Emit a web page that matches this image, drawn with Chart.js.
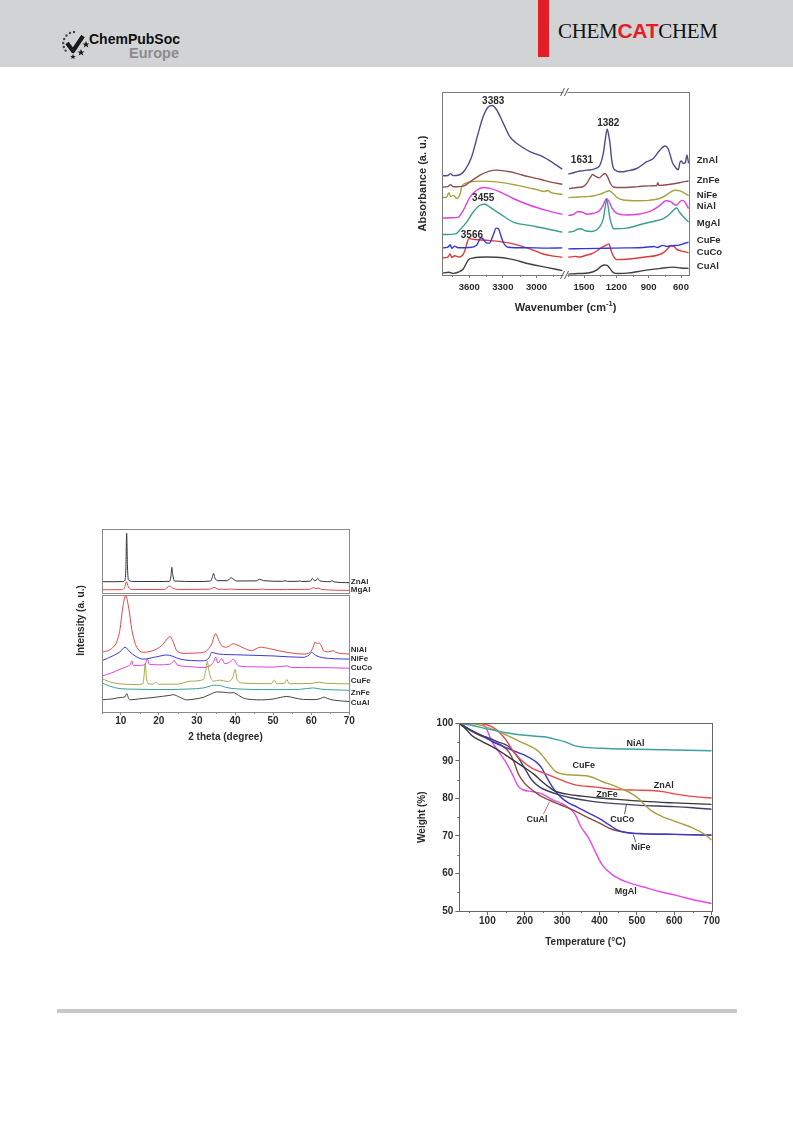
<!DOCTYPE html>
<html><head><meta charset="utf-8">
<script src="https://cdn.jsdelivr.net/npm/chart.js@4.4.0/dist/chart.umd.min.js"></script>
<style>
html,body{margin:0;padding:0;background:#fff;}
#page{position:relative;width:793px;height:1121px;overflow:hidden;background:#fff;font-family:'Liberation Sans',Arial,sans-serif;}
.hdr{position:absolute;left:0;top:0;width:793px;height:67px;background:#d2d3d5;}
.red{position:absolute;left:538px;top:0;width:11px;height:57px;background:#e41e26;}
.brand{position:absolute;left:558px;top:18px;font-size:21px;line-height:26px;white-space:nowrap;letter-spacing:-0.3px;}
.brand .s{font-family:'Liberation Serif','Times New Roman',serif;color:#111;}
.brand .c{font-family:'Liberation Sans',Arial,sans-serif;font-weight:bold;color:#e41e26;}
.cps{position:absolute;left:89px;top:31px;font-size:14px;line-height:16px;font-weight:bold;color:#111;}
.eu{position:absolute;left:129px;top:45px;font-size:14.5px;line-height:16px;font-weight:bold;color:#8c8c8c;}
.logo{position:absolute;left:61px;top:29px;}
.box{position:absolute;}
.foot{position:absolute;left:57px;top:1009px;width:680px;height:4px;background:#c8c8cc;}
</style></head>
<body>
<div id="page">
  <div class="hdr"></div>
  <div class="red"></div>
  <div class="brand"><span class="s">CHEM</span><span class="c">CAT</span><span class="s">CHEM</span></div>
  <svg class="logo" width="30" height="30" viewBox="0 0 30 30">
    <g fill="#444">
      <circle cx="9" cy="4" r="1.2"/><circle cx="5.5" cy="6.5" r="1.2"/><circle cx="3.2" cy="10" r="1.2"/>
      <circle cx="2.2" cy="14" r="1.2"/><circle cx="2.8" cy="18" r="1.2"/><circle cx="4.6" cy="21.6" r="1.2"/>
      <circle cx="13" cy="3" r="1.2"/>
    </g>
    <path d="M6 14 L12 22 L22 7" fill="none" stroke="#1a1a1a" stroke-width="4.2" stroke-linejoin="round"/>
    <polygon fill="#1a1a1a" points="25,12 26,14.5 28.5,14.5 26.5,16 27.3,18.5 25,17 22.7,18.5 23.5,16 21.5,14.5 24,14.5"/>
    <polygon fill="#1a1a1a" points="20,20 21,22.5 23.5,22.5 21.5,24 22.3,26.5 20,25 17.7,26.5 18.5,24 16.5,22.5 19,22.5"/>
    <polygon fill="#1a1a1a" points="12,25 12.8,27 14.8,27 13.2,28.2 13.8,30 12,28.9 10.2,30 10.8,28.2 9.2,27 11.2,27"/>
  </svg>
  <div class="cps">ChemPubSoc</div>
  <div class="eu">Europe</div>

  <div class="box" id="ftirBox"><canvas id="ftir"></canvas></div>
  <div class="box" id="xrdBox"><canvas id="xrd"></canvas></div>
  <div class="box" id="tgaBox"><canvas id="tga"></canvas></div>

  <div class="foot"></div>
</div>
<script>
// ================= FTIR data (wavenumber, absorbance a.u.) =================
const ftirSeries = ['ZnAl','ZnFe','NiFe','NiAl','MgAl','CuFe','CuCo','CuAl'];
const ftirTicksHi = [3600, 3300, 3000];
const ftirTicksLo = [1500, 1200, 900, 600];
const ftirMinorHi = [3750, 3450, 3150, 2850];
const ftirMinorLo = [1650, 1350, 1050, 750];

const ftirZnAlHi = [[3845,54.2],[3790,54.4],[3765,55.4],[3745,54.3],[3697,54.5],[3638,57.3],[3578,64.6],[3520,77.5],[3475,86.6],[3431,91.8],[3395,92.6],[3356,90.3],[3297,83.0],[3238,75.6],[3178,72.0],[3120,69.6],[3060,67.4],[3000,66.0],[2942,64.6],[2880,62.4],[2823,60.0],[2770,57.8]];
const ftirZnFeHi = [[3845,48.1],[3790,48.3],[3765,49.4],[3745,48.2],[3650,48.6],[3593,50.9],[3504,54.6],[3420,56.8],[3356,57.3],[3238,56.4],[3150,55.0],[3060,53.6],[2960,52.2],[2882,50.9],[2770,49.6]];
const ftirNiFeHi = [[3845,42.3],[3800,42.6],[3780,45.0],[3765,42.8],[3740,43.5],[3712,41.8],[3690,43.0],[3680,44.5],[3667,48.1],[3623,50.3],[3504,51.3],[3356,50.9],[3178,49.1],[3060,47.5],[3001,46.7],[2930,45.6],[2900,46.2],[2870,45.0],[2770,44.1]];
const ftirNiAlHi = [[3845,31.1],[3760,31.3],[3700,31.5],[3653,35.3],[3593,42.6],[3534,46.3],[3475,47.8],[3416,47.3],[3327,45.4],[3208,41.8],[3060,38.1],[2912,35.3],[2770,33.1]];
const ftirMgAlHi = [[3845,22.1],[3720,22.5],[3682,24.7],[3623,28.9],[3564,34.4],[3504,38.1],[3460,38.7],[3416,37.1],[3327,33.5],[3208,28.9],[3060,27.1],[2912,25.3],[2770,23.4]];
const ftirCuFeHi = [[3845,14.8],[3790,15.2],[3770,16.5],[3755,14.6],[3730,15.8],[3700,14.9],[3600,15.0],[3534,16.3],[3495,20.3],[3480,20.0],[3450,17.6],[3422,17.4],[3385,22.0],[3360,25.6],[3340,25.4],[3320,22.0],[3297,17.9],[3253,15.2],[3100,14.9],[2900,14.7],[2770,14.8]];
const ftirCuCoHi = [[3845,9.3],[3790,9.8],[3770,11.5],[3755,9.6],[3730,10.5],[3690,9.8],[3660,10.8],[3638,13.4],[3615,18.5],[3600,20.0],[3575,19.6],[3549,19.4],[3450,19.0],[3356,18.5],[3208,17.0],[3060,14.3],[2942,11.5],[2850,10.3],[2770,9.7]];
const ftirCuAlHi = [[3845,0.9],[3780,1.5],[3740,0.9],[3700,1.5],[3653,3.3],[3608,8.2],[3564,9.3],[3450,9.8],[3356,9.7],[3238,8.8],[3060,6.0],[2912,4.2],[2770,2.4]];

const ftirZnAlLo = [[1646,55.1],[1600,55.9],[1537,56.8],[1475,57.3],[1414,57.7],[1380,58.5],[1352,60.1],[1321,66.5],[1299,75.6],[1285,79.7],[1270,76.0],[1259,72.0],[1243,62.8],[1220,57.7],[1150,56.4],[1104,56.8],[1011,58.2],[918,61.9],[857,63.7],[795,68.3],[749,70.5],[720,69.0],[700,65.5],[680,61.5],[660,59.5],[640,58.0],[625,57.5],[610,61.5],[595,62.3],[580,61.0],[560,61.5],[545,65.5],[530,61.0]];
const ftirZnFeLo = [[1640,47.2],[1560,47.8],[1500,48.6],[1470,50.5],[1440,53.5],[1420,54.9],[1395,54.0],[1360,53.1],[1330,54.5],[1305,55.5],[1280,53.5],[1255,50.0],[1228,48.1],[1150,47.8],[1000,48.3],[900,48.7],[825,48.9],[815,50.5],[805,49.0],[700,49.6],[600,50.6],[530,51.4]];
const ftirNiFeLo = [[1646,42.3],[1550,42.6],[1480,42.8],[1414,43.2],[1350,44.2],[1300,45.4],[1265,46.0],[1230,44.5],[1190,42.2],[1136,41.0],[1000,40.6],[900,40.8],[800,41.8],[740,43.5],[690,45.6],[650,46.3],[610,46.0],[570,44.8],[530,43.4]];
const ftirNiAlLo = [[1646,32.6],[1600,33.0],[1560,34.6],[1520,34.4],[1470,33.2],[1420,33.6],[1360,35.0],[1320,38.5],[1295,41.6],[1270,40.5],[1240,36.5],[1200,33.8],[1104,32.8],[1000,33.2],[888,34.8],[800,37.8],[740,40.6],[700,40.2],[660,38.4],[640,38.1],[610,40.2],[580,40.8],[555,39.0],[530,36.3]];
const ftirMgAlLo = [[1646,23.4],[1600,23.8],[1560,25.0],[1530,25.3],[1490,24.2],[1429,23.8],[1360,26.0],[1321,30.8],[1300,38.5],[1290,41.8],[1278,38.0],[1259,30.8],[1240,26.8],[1228,25.3],[1104,25.6],[950,28.0],[840,29.5],[764,30.8],[700,33.5],[660,36.0],[640,36.6],[610,34.0],[580,32.0],[555,30.5],[530,28.9]];
const ftirCuFeLo = [[1646,14.3],[1500,14.4],[1300,14.6],[1100,14.8],[950,15.0],[850,15.6],[820,15.0],[770,16.2],[730,15.6],[680,16.0],[620,16.3],[570,17.2],[530,17.9]];
const ftirCuCoLo = [[1646,9.7],[1580,10.2],[1540,9.8],[1480,10.8],[1420,11.8],[1370,13.6],[1330,15.2],[1290,16.5],[1268,17.0],[1250,13.5],[1228,10.3],[1197,8.4],[1104,8.6],[950,9.7],[820,10.8],[760,12.4],[720,14.6],[690,16.1],[665,15.6],[640,14.0],[600,13.2],[560,12.6],[530,12.2]];
const ftirCuAlLo = [[1646,0.5],[1560,0.8],[1450,1.2],[1380,2.8],[1340,4.8],[1310,5.5],[1285,5.3],[1260,3.6],[1228,1.3],[1180,0.8],[1100,1.0],[950,2.4],[800,3.5],[672,4.3],[600,3.8],[530,3.6]];

const ftirLabelY = [62.5, 51.9, 43.7, 37.3, 28.3, 19.1, 12.2, 4.5];
const ftirPeakText = ['3383', '3455', '3566', '1382', '1631'];
const ftirPeakX = [3386, 3475, 3576, 1275, 1519];
const ftirPeakY = [95.1, 42.2, 21.9, 82.9, 62.8];
const ftirPeakAxis = ['x1', 'x1', 'x1', 'x2', 'x2'];

// ================= XRD data (2 theta, intensity a.u.) =================
const xrdSeries = ['ZnAl','MgAl','NiAl','NiFe','CuCo','CuFe','ZnFe','CuAl'];
const xrdTicks = [10, 20, 30, 40, 50, 60, 70];
const xrdMinor = [5, 15, 25, 35, 45, 55, 65];
const xrdZnAl = [[5,18.9],[8,18.9],[10.5,19.1],[11.1,21],[11.35,40],[11.55,93.4],[11.75,45],[12.0,22],[13,19.3],[20,19.2],[22.8,19.5],[23.2,28],[23.4,41],[23.65,30],[24.1,20],[30,19.2],[33.6,20],[34.1,27],[34.35,31.8],[34.7,25],[35.4,20.5],[38.0,20.5],[38.7,24],[39.0,25],[39.5,23],[40.5,20],[45.5,20.2],[46.5,22.6],[47.5,20.5],[52.5,19.5],[53.1,20.5],[53.8,19.4],[56.5,19.5],[57,20.2],[57.5,19.3],[59.8,19.8],[60.3,24.2],[60.8,20.5],[61.3,21],[61.7,24.2],[62.2,20.3],[65,18.9],[65.5,20.5],[66,18.7],[70,17.4]];
const xrdMgAl = [[5,6.5],[10.3,6.7],[11.0,10],[11.5,18.9],[12.0,11],[13,6.8],[21.5,7],[22.8,12.3],[23.8,8.5],[25,7],[33.5,7.5],[34.5,10.3],[35.5,7.5],[38,7.2],[39,7.5],[40,7],[46,7],[47,7.5],[48,6.8],[59.5,7.2],[60.5,9.7],[61.2,8.5],[62,9.0],[62.7,7],[70,5.6]];
const xrdNiAl = [[5,50.6],[7,52.5],[8,54.9],[9,60],[9.8,70],[10.5,88],[11.3,98.5],[12.1,88],[12.9,70],[13.6,60],[14.2,54.9],[15.9,50.6],[18,51.5],[19.4,53.4],[21,57],[22.2,62],[22.9,64],[23.7,60],[24.7,52],[26.9,49.7],[29,49.9],[31.7,50.6],[33.2,54],[33.9,57.8],[34.9,66.4],[35.7,61],[36.5,56.3],[37.8,54.9],[39.5,57.8],[40.8,56.5],[42.2,54.3],[44.4,52],[45.5,53.5],[46.5,54.9],[48,54.4],[50,53],[53.6,50.6],[57.9,49.1],[59.7,50.5],[60.5,55],[61,59.2],[61.6,58],[62.1,58.5],[62.8,55],[63.2,52],[64.5,51],[65.8,52],[66.5,50.5],[70,49.1]];
const xrdNiFe = [[5,43.4],[8,47.7],[9.8,51],[11.1,54.9],[12.4,51],[14,47],[15.9,44.8],[19.4,46.8],[22.1,48.3],[23.5,47.4],[25.6,44.8],[31.7,43.4],[33.2,46],[33.9,50.6],[35,49.5],[37,48.8],[40.4,48.5],[50,47.5],[57.9,46.3],[59.5,48.5],[60.1,50.6],[61.2,48],[63,46],[70,44.8]];
const xrdCuCo = [[5,30.5],[7.5,33],[9.8,36.2],[12.0,39],[12.5,40],[12.9,43.4],[13.3,39.5],[15,39.5],[16.4,40.5],[17.0,44.8],[17.5,40.5],[20,40],[22.9,40.5],[24.1,43.4],[24.8,40],[28,38.5],[31.7,37.6],[33.5,39.5],[34.3,41.9],[34.9,46.3],[35.5,41.5],[36.5,45.2],[37.3,41],[38.5,42],[39.5,44.8],[40.9,39.1],[45,38.3],[50,38],[53.6,39.1],[54.8,37.8],[60,37.6],[65,37.5],[70,37.1]];
const xrdCuFe = [[5,28.4],[8,24.7],[14.2,23.3],[15.8,23.8],[16.1,30],[16.4,41],[16.8,28],[17.2,24],[18.5,23.6],[19.2,25.3],[20,23.5],[25,23.6],[28.2,26.1],[31.7,27.5],[32.3,35],[32.7,43],[33.2,34],[34.3,26.1],[36,27.0],[38,25.8],[39.5,30],[40.0,36],[40.6,27],[42,24.5],[49.5,24],[50.3,27],[51,24],[53.1,24.5],[53.6,27.5],[54.2,24],[60,24.2],[62,25.3],[64,24.3],[70,23.9]];
const xrdZnFe = [[5,24.7],[7,22],[9.8,19.8],[14,19.3],[20,19.0],[28,19.5],[31.7,20.4],[33.5,22],[34.3,22.7],[36,22.5],[37.5,21],[40,19.7],[50,19.0],[57,19.2],[60.5,20.4],[62.5,19.4],[70,18.4]];
const xrdCuAl = [[5,10.3],[8,11.2],[9.8,12.3],[11.1,12.8],[11.6,15.5],[12.0,12],[12.4,10.3],[14,10.8],[16,11.5],[18.5,12.3],[21,13.3],[22.9,14.1],[23.8,14.7],[25.5,12.5],[27.3,10.3],[29.5,11.0],[31.7,12.5],[33.5,15],[35.2,17.0],[37,16.8],[38.5,16.2],[39.5,16.4],[41,14],[42.2,11.8],[44.5,10.5],[47,10.3],[50,11],[52,12.4],[53.6,13.2],[55.5,12],[58,10.6],[61,10.5],[62.5,11.5],[63.4,12.6],[64.2,11.5],[66,10],[70,8.9]];
const xrdPanel = ['yTop','yTop','yBot','yBot','yBot','yBot','yBot','yBot'];
const xrdLabelY = [18.9, 6.2, 52.6, 44.8, 37.1, 26.1, 16.1, 8.0];

// ================= TGA data (temperature °C, weight %) =================
const tgaSeries = ['NiAl','CuFe','ZnAl','ZnFe','CuCo','NiFe','CuAl','MgAl'];
const tgaXTicks = [100, 200, 300, 400, 500, 600, 700];
const tgaYTicks = [50, 60, 70, 80, 90, 100];
const tgaXMinor = [50, 150, 250, 350, 450, 550, 650];
const tgaYMinor = [55, 65, 75, 85, 95];
const tgaNiAl = [[25,100],[60,99.4],[100,98.5],[150,97.5],[200,96.8],[250,96.4],[280,95.8],[310,95.0],[335,94.0],[360,93.6],[420,93.3],[500,93.1],[600,92.9],[700,92.7]];
const tgaCuFe = [[25,100],[60,99.9],[100,98.9],[148,97.0],[190,95.0],[237,92.5],[260,89.8],[282,87.2],[317,86.3],[371,85.9],[407,84.5],[443,83.2],[470,82.1],[490,81.0],[505,79.9],[520,78.4],[540,76.6],[565,75.3],[610,73.6],[650,72.1],[680,70.5],[700,68.9]];
const tgaZnAl = [[25,100],[80,99.9],[110,99.2],[130,97.8],[150,95.5],[170,92.5],[190,90.2],[220,88.0],[250,86.8],[285,85.4],[335,83.6],[390,83.0],[443,82.4],[500,82.2],[540,82.1],[570,81.8],[600,81.2],[640,80.6],[700,80.1]];
const tgaZnFe = [[25,100],[40,98.7],[60,96.6],[85,95.2],[120,93.4],[148,91.6],[175,89.8],[201,88.1],[225,86.4],[246,84.5],[265,83.0],[282,81.9],[320,81.0],[353,80.6],[400,80.1],[443,79.8],[520,79.2],[600,78.8],[700,78.4]];
const tgaCuCo = [[25,100],[50,98.5],[75,97.1],[103,96.1],[130,95.0],[156,93.9],[170,92.5],[183,90.8],[200,88.0],[219,84.9],[240,83.0],[264,81.9],[290,81.0],[326,80.1],[380,79.2],[443,78.6],[500,78.2],[600,77.8],[650,77.5],[700,77.1]];
const tgaNiFe = [[25,100],[50,98.5],[85,96.8],[120,94.8],[150,93.5],[174,92.5],[200,91.5],[228,89.9],[245,88.2],[255,86.3],[268,84.0],[282,81.9],[300,80.0],[317,78.8],[340,77.7],[371,76.1],[400,74.6],[425,73.0],[447,71.6],[470,70.9],[501,70.6],[600,70.4],[700,70.2]];
const tgaCuAl = [[25,100],[50,98.3],[75,97.0],[98,96.0],[120,95.0],[143,93.8],[158,92.3],[170,90.0],[183,86.5],[200,84.0],[219,82.3],[240,80.8],[264,79.6],[295,78.3],[335,76.6],[370,74.8],[400,73.4],[425,72.1],[450,71.3],[480,70.8],[520,70.6],[600,70.4],[700,70.2]];
const tgaMgAl = [[88,100],[100,98.0],[112,95.2],[130,92.5],[148,89.9],[165,86.8],[183,83.2],[195,82.3],[220,81.8],[246,81.2],[275,79.6],[300,78.6],[320,77.3],[335,75.7],[350,72.5],[371,69.4],[390,65.5],[407,62.3],[434,59.7],[470,57.8],[518,56.4],[560,55.2],[608,54.1],[650,53.0],[700,52.0]];
const tgaLabelX = [496, 358, 572, 420, 461, 510, 233, 470];
const tgaLabelY = [94.7, 88.7, 83.4, 80.9, 74.5, 67.0, 74.5, 55.1];
const tgaLeaderFrom = [[250,75.8],[467,75.8],[497,68.3]];
const tgaLeaderTo = [[266,79.0],[472,78.4],[490,70.4]];

// ================= styles & layout =================
const FONT = "'Liberation Sans', Arial, sans-serif";
const INK = '#2b2b2b';
const ftirColors = ['#4b4b8f','#8e4f4f','#a4a33c','#e03ee0','#3a9e8e','#3535e0','#e03a3a','#404040'];
const xrdColors = ['#333333','#e04848','#e04848','#3a3ad8','#e040e0','#a8a848','#3a9e9e','#444444'];
const tgaColors = ['#3aa0a0','#a8a040','#e84848','#383838','#404068','#3838d8','#8a4a3e','#e848e8'];
const tgaLeaderColors = ['#b07070','#505070','#6060a0'];

const G = {
  ftir: {box: [400, 80, 340, 245], area: [441.7, 92, 689.3, 275], yW: 25, xH: 20},
  xrd:  {box: [60, 515, 320, 240], area: [101.7, 529, 349.3, 712], yW: 26.7, xH: 31},
  tga:  {box: [400, 700, 340, 265], area: [459.3, 723.3, 711.7, 911], yW: 43, xH: 37}
};
function place(id, g) {
  const el = document.getElementById(id);
  el.style.left = g.box[0] + 'px'; el.style.top = g.box[1] + 'px';
  el.style.width = g.box[2] + 'px'; el.style.height = g.box[3] + 'px';
}
function padFor(g) {
  return {left: g.area[0] - g.box[0] - g.yW, top: g.area[1] - g.box[1],
          right: g.box[0] + g.box[2] - g.area[2], bottom: g.box[1] + g.box[3] - g.area[3] - g.xH};
}
place('ftirBox', G.ftir); place('xrdBox', G.xrd); place('tgaBox', G.tga);

const P = arr => arr.map(([x, y]) => ({x, y}));
function ds(data, color, xID, yID, w) {
  return {data: P(data), borderColor: color, borderWidth: w, xAxisID: xID, yAxisID: yID,
          pointRadius: 0, fill: false, cubicInterpolationMode: 'monotone'};
}
const f = (size, weight) => ({family: FONT, size, weight: weight || 'bold'});
const fontStr = (size) => `bold ${size}px ${FONT}`;
const plain = v => String(v);

// ================= decoration plugin =================
const decor = {
  id: 'decor',
  afterDraw(chart, args, o) {
    const ctx = chart.ctx, a = chart.chartArea;
    const R = v => Math.round(v) + 0.5;
    ctx.save();
    for (const fr of (o.frames || [])) {
      let t = a.top, b = a.bottom;
      if (fr.scale) { const s = chart.scales[fr.scale]; t = s.top + (fr.insetTop || 0); b = s.bottom - (fr.insetBottom || 0); }
      ctx.strokeStyle = fr.color; ctx.lineWidth = 1;
      ctx.strokeRect(R(a.left), R(t), Math.round(a.right) - Math.round(a.left), Math.round(b) - Math.round(t));
    }
    for (const m of (o.minor || [])) {
      const s = chart.scales[m.scale];
      ctx.strokeStyle = m.color; ctx.lineWidth = 1; ctx.beginPath();
      for (const v of m.values) {
        const p = s.getPixelForValue(v);
        if (s.isHorizontal()) { ctx.moveTo(R(p), a.bottom); ctx.lineTo(R(p), a.bottom + m.len); }
        else { ctx.moveTo(a.left, R(p)); ctx.lineTo(a.left - m.len, R(p)); }
      }
      ctx.stroke();
    }
    for (const br of (o.breaks || [])) {
      const x = chart.scales[br.scale].right;
      for (const y of [a.top, a.bottom]) {
        ctx.fillStyle = '#fff'; ctx.fillRect(x - 2, y - 1.5, 4, 3);
        ctx.strokeStyle = br.color; ctx.lineWidth = 1; ctx.beginPath();
        ctx.moveTo(x - 5, y + 4); ctx.lineTo(x - 1, y - 4);
        ctx.moveTo(x - 1, y + 4); ctx.lineTo(x + 3, y - 4);
        ctx.stroke();
      }
    }
    for (const l of (o.leaders || [])) {
      const sx = chart.scales[l.xScale], sy = chart.scales[l.yScale];
      ctx.strokeStyle = l.color; ctx.lineWidth = 1; ctx.beginPath();
      ctx.moveTo(sx.getPixelForValue(l.from[0]), sy.getPixelForValue(l.from[1]));
      ctx.lineTo(sx.getPixelForValue(l.to[0]), sy.getPixelForValue(l.to[1]));
      ctx.stroke();
    }
    for (const t of (o.labels || [])) {
      ctx.font = t.font; ctx.fillStyle = t.color; ctx.textAlign = t.align || 'center'; ctx.textBaseline = 'middle';
      const x = t.xScale ? chart.scales[t.xScale].getPixelForValue(t.x) : a.right + t.dx;
      const y = chart.scales[t.yScale].getPixelForValue(t.y);
      ctx.fillText(t.text, x, y);
    }
    for (const t of (o.texts || [])) {
      ctx.save();
      ctx.font = t.font; ctx.fillStyle = t.color; ctx.textBaseline = 'middle'; ctx.textAlign = 'left';
      const parts = t.parts;
      const supFont = t.supFont || t.font;
      let total = 0;
      for (const p of parts) { ctx.font = p.sup ? supFont : t.font; total += ctx.measureText(p.t).width; }
      ctx.translate(t.rot ? a.left + t.dx : a.left + t.ax * (a.right - a.left),
                    t.rot ? a.top + t.ay * (a.bottom - a.top) : a.bottom + t.dy);
      if (t.rot) ctx.rotate(t.rot);
      let x = -total / 2;
      for (const p of parts) {
        ctx.font = p.sup ? supFont : t.font;
        ctx.fillText(p.t, x, p.sup ? -3.5 : 0);
        x += ctx.measureText(p.t).width;
      }
      ctx.restore();
    }
    ctx.restore();
  }
};

const base = {
  responsive: true, maintainAspectRatio: false, animation: false, events: [],
  elements: {point: {radius: 0}, line: {tension: 0.3}}
};
function xAxis(opt) {
  return Object.assign({
    type: 'linear', position: 'bottom',
    afterBuildTicks: s => { s.ticks = opt.tickVals.map(v => ({value: v})); },
    afterFit: s => { s.height = opt.h; },
    grid: {display: true, drawOnChartArea: false, drawTicks: true, tickLength: opt.tl, color: opt.color},
    border: {display: false},
    ticks: {padding: opt.pad, font: f(opt.fs), color: INK, maxRotation: 0, autoSkip: false, callback: plain}
  }, opt.extra);
}

// ================= FTIR chart =================
const ftirHiSets = [ftirZnAlHi, ftirZnFeHi, ftirNiFeHi, ftirNiAlHi, ftirMgAlHi, ftirCuFeHi, ftirCuCoHi, ftirCuAlHi];
const ftirLoSets = [ftirZnAlLo, ftirZnFeLo, ftirNiFeLo, ftirNiAlLo, ftirMgAlLo, ftirCuFeLo, ftirCuCoLo, ftirCuAlLo];
const ftirDatasets = [];
ftirSeries.forEach((n, i) => {
  ftirDatasets.push(ds(ftirHiSets[i], ftirColors[i], 'x1', 'y', 1.4));
  ftirDatasets.push(ds(ftirLoSets[i], ftirColors[i], 'x2', 'y', 1.4));
});
const ftirFrame = '#7a7a7a';
const ftirLabels = ftirSeries.map((n, i) => ({text: n, dx: 7.5, y: ftirLabelY[i], yScale: 'y', align: 'left', font: fontStr(9.5), color: INK}))
  .concat(ftirPeakText.map((t, i) => ({text: t, x: ftirPeakX[i], xScale: ftirPeakAxis[i], y: ftirPeakY[i], yScale: 'y', font: fontStr(10), color: INK})));
new Chart(document.getElementById('ftir'), {
  type: 'line',
  data: {datasets: ftirDatasets},
  options: Object.assign({}, base, {
    layout: {padding: padFor(G.ftir)},
    plugins: {legend: {display: false}, tooltip: {enabled: false},
      decor: {
        frames: [{color: ftirFrame}],
        minor: [{scale: 'x1', values: ftirMinorHi, len: 2, color: ftirFrame}, {scale: 'x2', values: ftirMinorLo, len: 2, color: ftirFrame}],
        breaks: [{scale: 'x1', color: '#555'}],
        labels: ftirLabels,
        texts: [{parts: [{t: 'Wavenumber (cm'}, {t: '-1', sup: true}, {t: ')'}], font: fontStr(11), supFont: fontStr(7.5), color: INK, ax: 0.5, dy: 32.5}]
      }},
    scales: {
      x1: xAxis({tickVals: ftirTicksHi, h: G.ftir.xH, tl: 3, pad: 4, fs: 9.5, color: ftirFrame,
                 extra: {min: 2742, max: 3845, reverse: true, stack: 'ftirx', stackWeight: 1, weight: 1}}),
      x2: xAxis({tickVals: ftirTicksLo, h: G.ftir.xH, tl: 3, pad: 4, fs: 9.5, color: ftirFrame,
                 extra: {min: 523, max: 1672, reverse: true, stack: 'ftirx', stackWeight: 1, weight: 2}}),
      y: {type: 'linear', position: 'left', min: 0, max: 100,
          afterFit: s => { s.width = G.ftir.yW; },
          grid: {display: false}, border: {display: false}, ticks: {display: false},
          title: {display: true, text: 'Absorbance (a. u.)', font: f(11), color: INK, padding: 0}}
    }
  }),
  plugins: [decor]
});

// ================= XRD chart =================
const xrdSets = [xrdZnAl, xrdMgAl, xrdNiAl, xrdNiFe, xrdCuCo, xrdCuFe, xrdZnFe, xrdCuAl];
const xrdFrame = '#8a8a8a';
new Chart(document.getElementById('xrd'), {
  type: 'line',
  data: {datasets: xrdSeries.map((n, i) => ds(xrdSets[i], xrdColors[i], 'x', xrdPanel[i], 1))},
  options: Object.assign({}, base, {
    layout: {padding: padFor(G.xrd)},
    plugins: {legend: {display: false}, tooltip: {enabled: false},
      decor: {
        frames: [{scale: 'yTop', insetBottom: 1, color: xrdFrame}, {scale: 'yBot', insetTop: 1, color: xrdFrame}],
        minor: [{scale: 'x', values: xrdMinor, len: 2, color: xrdFrame}],
        labels: xrdSeries.map((n, i) => ({text: n, dx: 1.5, y: xrdLabelY[i], yScale: xrdPanel[i], align: 'left', font: fontStr(8), color: INK})),
        texts: [{parts: [{t: 'Intensity (a. u.)'}], font: fontStr(10), color: INK, dx: -20, ay: 0.5, rot: -Math.PI / 2}]
      }},
    scales: {
      x: xAxis({tickVals: xrdTicks, h: G.xrd.xH, tl: 3, pad: 0, fs: 10, color: xrdFrame,
                extra: {min: 5, max: 70, title: {display: true, text: '2 theta (degree)', font: f(10), color: INK, padding: 0}}}),
      yTop: {type: 'linear', position: 'left', min: 0, max: 100, stack: 'xrdy', stackWeight: 65, weight: 2,
             afterFit: s => { s.width = G.xrd.yW; }, grid: {display: false}, border: {display: false}, ticks: {display: false}},
      yBot: {type: 'linear', position: 'left', min: 0, max: 100, stack: 'xrdy', stackWeight: 118, weight: 1,
             afterFit: s => { s.width = G.xrd.yW; }, grid: {display: false}, border: {display: false}, ticks: {display: false}}
    }
  }),
  plugins: [decor]
});

// ================= TGA chart =================
const tgaSets = [tgaNiAl, tgaCuFe, tgaZnAl, tgaZnFe, tgaCuCo, tgaNiFe, tgaCuAl, tgaMgAl];
const tgaFrame = '#666666';
new Chart(document.getElementById('tga'), {
  type: 'line',
  data: {datasets: tgaSeries.map((n, i) => ds(tgaSets[i], tgaColors[i], 'x', 'y', 1.4))},
  options: Object.assign({}, base, {
    layout: {padding: padFor(G.tga)},
    plugins: {legend: {display: false}, tooltip: {enabled: false},
      decor: {
        frames: [{color: tgaFrame}],
        minor: [{scale: 'x', values: tgaXMinor, len: 2, color: tgaFrame}, {scale: 'y', values: tgaYMinor, len: 2, color: tgaFrame}],
        leaders: tgaLeaderFrom.map((p, i) => ({from: p, to: tgaLeaderTo[i], xScale: 'x', yScale: 'y', color: tgaLeaderColors[i]})),
        labels: tgaSeries.map((n, i) => ({text: n, x: tgaLabelX[i], xScale: 'x', y: tgaLabelY[i], yScale: 'y', font: fontStr(9), color: INK}))
      }},
    scales: {
      x: xAxis({tickVals: tgaXTicks, h: G.tga.xH, tl: 4, pad: 0, fs: 10, color: tgaFrame,
                extra: {min: 25, max: 700, title: {display: true, text: 'Temperature (°C)', font: f(10), color: INK, padding: 0}}}),
      y: {type: 'linear', position: 'left', min: 50, max: 100,
          afterBuildTicks: s => { s.ticks = tgaYTicks.map(v => ({value: v})); },
          afterFit: s => { s.width = G.tga.yW; },
          grid: {display: true, drawOnChartArea: false, drawTicks: true, tickLength: 4, color: tgaFrame},
          border: {display: false},
          ticks: {padding: 2, font: f(10), color: INK, callback: plain},
          title: {display: true, text: 'Weight (%)', font: f(10), color: INK, padding: 0}}
    }
  }),
  plugins: [decor]
});
</script>
</body></html>
